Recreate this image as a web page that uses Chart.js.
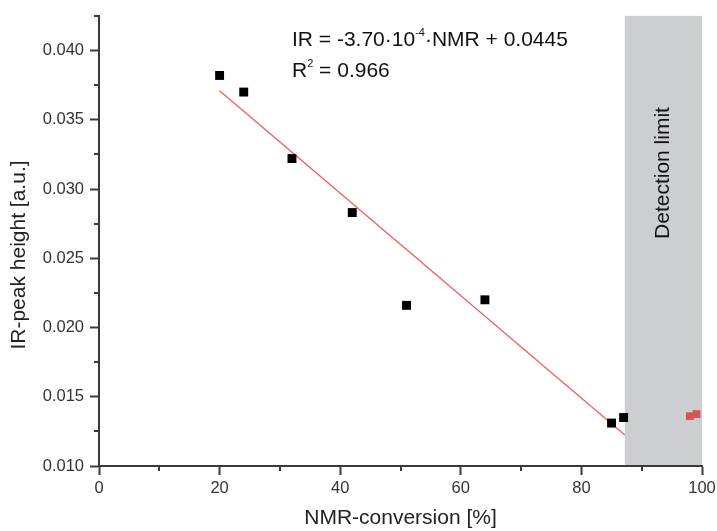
<!DOCTYPE html>
<html>
<head>
<meta charset="utf-8">
<script src="https://cdn.jsdelivr.net/npm/chart.js@4"></script>
<style>
  html, body { margin: 0; padding: 0; background: #ffffff; }
  #wrap { width: 717px; height: 531px; }
</style>
</head>
<body>
<div id="wrap"><canvas id="c" width="717" height="531"></canvas></div>
<script>
// ---- data ----
const conversionMeasured = [20, 24, 32, 42, 51, 64, 85, 87];
const peakMeasured = [0.0382, 0.0370, 0.0322, 0.0283, 0.0216, 0.0220, 0.0131, 0.0135];
const conversionBelowLimit = [98.0, 99.1];
const peakBelowLimit = [0.0136, 0.01375];
const fitX = [20, 87.2];
const fitY = [0.0371, 0.01224];
const detectionLimitRange = [87.2, 100];
const xMajorTicks = [0, 20, 40, 60, 80, 100];
const xMinorTicks = [10, 30, 50, 70, 90];
const yMajorTicks = [0.010, 0.015, 0.020, 0.025, 0.030, 0.035, 0.040];
const yMinorTicks = [0.0125, 0.0175, 0.0225, 0.0275, 0.0325, 0.0375, 0.0425];
const xRange = [0, 100];
const yRange = [0.010, 0.0425];

const FONT = "Arial, 'Liberation Sans', sans-serif";
const AXIS_COLOR = '#3a3a3a';

const toPoints = (xs, ys) => xs.map((x, i) => ({ x: x, y: ys[i] }));

const decorPlugin = {
  id: 'decor',
  beforeDraw(chart) {
    const { ctx, chartArea, scales } = chart;
    const x0 = scales.x.getPixelForValue(detectionLimitRange[0]);
    const x1 = scales.x.getPixelForValue(detectionLimitRange[1]);
    ctx.save();
    ctx.fillStyle = '#cdced1';
    ctx.fillRect(x0, chartArea.top, x1 - x0, chartArea.bottom - chartArea.top);
    ctx.restore();
  },
  afterDraw(chart) {
    const { ctx, chartArea, scales } = chart;
    ctx.save();
    // minor ticks
    ctx.strokeStyle = AXIS_COLOR;
    ctx.lineWidth = 2;
    ctx.beginPath();
    xMinorTicks.forEach(v => {
      const px = Math.round(scales.x.getPixelForValue(v));
      ctx.moveTo(px, chartArea.bottom);
      ctx.lineTo(px, chartArea.bottom + 5);
    });
    yMinorTicks.forEach(v => {
      const py = Math.round(scales.y.getPixelForValue(v));
      ctx.moveTo(chartArea.left, py);
      ctx.lineTo(chartArea.left - 5, py);
    });
    ctx.stroke();

    // equation text
    ctx.fillStyle = '#111';
    ctx.textBaseline = 'alphabetic';
    ctx.textAlign = 'left';
    let x = 292, y = 46;
    const big = '21px ' + FONT, small = '11px ' + FONT;
    ctx.font = big;
    let s = 'IR = -3.70\u00B710';
    ctx.fillText(s, x, y); x += ctx.measureText(s).width;
    ctx.font = small;
    s = '-4';
    ctx.fillText(s, x, y - 10); x += ctx.measureText(s).width;
    ctx.font = big;
    ctx.fillText('\u00B7NMR + 0.0445', x, y);

    x = 292; y = 77;
    s = 'R';
    ctx.fillText(s, x, y); x += ctx.measureText(s).width;
    ctx.font = small;
    ctx.fillText('2', x, y - 10); x += ctx.measureText('2').width;
    ctx.font = big;
    ctx.fillText(' = 0.966', x, y);

    // detection limit label
    const cx = (scales.x.getPixelForValue(detectionLimitRange[0]) + scales.x.getPixelForValue(detectionLimitRange[1])) / 2;
    ctx.translate(cx, 173);
    ctx.rotate(-Math.PI / 2);
    ctx.textAlign = 'center';
    ctx.textBaseline = 'middle';
    ctx.font = big;
    ctx.fillText('Detection limit', 0, 0);
    ctx.restore();

    // y axis title
    ctx.save();
    ctx.translate(19, 255);
    ctx.rotate(-Math.PI / 2);
    ctx.textAlign = 'center';
    ctx.textBaseline = 'middle';
    ctx.font = '21px ' + FONT;
    ctx.fillStyle = '#222';
    ctx.fillText('IR-peak height [a.u.]', 0, 0);
    ctx.restore();
  }
};

new Chart(document.getElementById('c'), {
  type: 'scatter',
  data: {
    datasets: [
      {
        label: 'Linear fit',
        type: 'line',
        data: toPoints(fitX, fitY),
        borderColor: '#f05a5a',
        borderWidth: 1.2,
        pointRadius: 0,
        fill: false,
        order: 3
      },
      {
        label: 'Measured',
        data: toPoints(conversionMeasured, peakMeasured),
        pointStyle: 'rect',
        pointRadius: 6.3,
        backgroundColor: '#000',
        borderColor: '#000',
        borderWidth: 0,
        order: 1
      },
      {
        label: 'Below detection limit',
        data: toPoints(conversionBelowLimit, peakBelowLimit),
        pointStyle: 'rect',
        pointRadius: 5.5,
        backgroundColor: '#d25656',
        borderColor: '#d25656',
        borderWidth: 0,
        order: 2
      }
    ]
  },
  options: {
    responsive: false,
    animation: false,
    layout: { padding: { top: 15, right: 15, left: 0, bottom: 0 } },
    plugins: { legend: { display: false }, tooltip: { enabled: false } },
    scales: {
      x: {
        type: 'linear',
        min: xRange[0], max: xRange[1],
        afterBuildTicks: s => { s.ticks = xMajorTicks.map(v => ({ value: v })); },
        afterFit: s => { s.height = 65; s.paddingRight = 0; },
        grid: { display: true, drawOnChartArea: false, drawTicks: true, tickLength: 9, tickWidth: 2, tickColor: AXIS_COLOR },
        border: { display: true, color: AXIS_COLOR, width: 2 },
        ticks: { color: '#333', font: { family: FONT, size: 16.5 }, padding: 4, maxRotation: 0, callback: v => String(v) },
        title: { display: true, text: 'NMR-conversion [%]', color: '#222', font: { family: FONT, size: 21 }, padding: { top: 4, bottom: 0 } }
      },
      y: {
        type: 'linear',
        min: yRange[0], max: yRange[1],
        afterBuildTicks: s => { s.ticks = yMajorTicks.map(v => ({ value: v })); },
        afterFit: s => { s.width = 99; },
        grid: { display: true, drawOnChartArea: false, drawTicks: true, tickLength: 9, tickWidth: 2, tickColor: AXIS_COLOR },
        border: { display: true, color: AXIS_COLOR, width: 2 },
        ticks: { color: '#333', font: { family: FONT, size: 16.5 }, padding: 6, callback: v => v.toFixed(3) },
        title: { display: false }
      }
    }
  },
  plugins: [decorPlugin]
});
</script>
</body>
</html>
